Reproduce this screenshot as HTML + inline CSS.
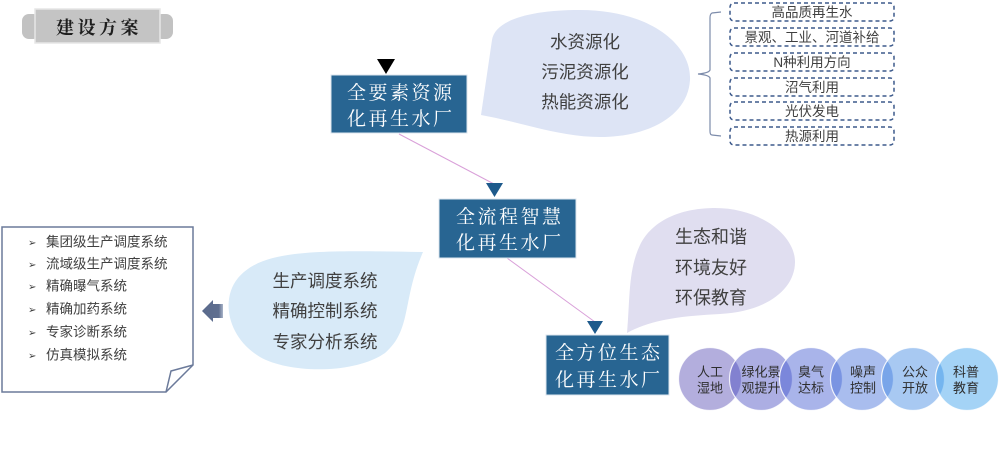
<!DOCTYPE html>
<html>
<head>
<meta charset="utf-8">
<style>
html,body{margin:0;padding:0;background:#fff;width:1000px;height:456px;overflow:hidden;}
svg{display:block;}
.sans{font-family:"Liberation Sans","Noto Sans CJK SC",sans-serif;}
.serif{font-family:"Liberation Serif","Noto Serif CJK SC",serif;}
</style>
</head>
<body>
<svg width="1000" height="456" viewBox="0 0 1000 456" xmlns="http://www.w3.org/2000/svg">
  <!-- Header tab -->
  <rect x="22" y="14" width="18" height="25" rx="7" fill="#c2c2c2"/>
  <rect x="155" y="14" width="18" height="25" rx="7" fill="#c2c2c2"/>
  <rect x="35" y="9" width="125" height="34" fill="#c4c4c4" stroke="#e6e6e6" stroke-width="1.5"/>
  <text x="56" y="34" class="serif" font-size="18" font-weight="bold" fill="#1e1e1e" letter-spacing="3.5">建设方案</text>

  <!-- Bubble 1 -->
  <path d="M481,115 L492,40 C495,20 530,10 580,10 C650,10 692,45 690,80 C688,115 650,137 600,137 C560,137 520,122 481,115 Z" fill="#dde4f5"/>
  <g class="sans" font-size="17.5" fill="#404040" text-anchor="middle">
    <text x="585" y="48">水资源化</text>
    <text x="585" y="78">污泥资源化</text>
    <text x="585" y="108">热能资源化</text>
  </g>

  <!-- Brace -->
  <path d="M721,12 L712,13 Q710,14 710,18 L710,70 Q709,73 698,74 Q709,75 710,78 L710,131 Q710,135 712,135 L721,136" fill="none" stroke="#7d8cab" stroke-width="1.2"/>

  <!-- Dashed boxes -->
  <g fill="none" stroke="#3d5a8c" stroke-width="1.5" stroke-dasharray="4 3">
    <rect x="730" y="3" width="164" height="18" rx="4"/>
    <rect x="730" y="28" width="164" height="18" rx="4"/>
    <rect x="730" y="53" width="164" height="18" rx="4"/>
    <rect x="730" y="78" width="164" height="18" rx="4"/>
    <rect x="730" y="102" width="164" height="18" rx="4"/>
    <rect x="730" y="127" width="164" height="18" rx="4"/>
  </g>
  <g class="sans" font-size="13.5" fill="#404040" text-anchor="middle">
    <text x="812" y="17">高品质再生水</text>
    <text x="812" y="42">景观、工业、河道补给</text>
    <text x="812" y="67">N种利用方向</text>
    <text x="812" y="92">沼气利用</text>
    <text x="812" y="116">光伏发电</text>
    <text x="812" y="141">热源利用</text>
  </g>

  <!-- Connectors -->
  <line x1="399" y1="134" x2="494" y2="184" stroke="#d9a0d9" stroke-width="1"/>
  <line x1="507" y1="258" x2="595" y2="322" stroke="#d9a0d9" stroke-width="1"/>

  <!-- Triangles -->
  <polygon points="377,59 395,59 386,74" fill="#000"/>
  <polygon points="486,183 503,183 494.5,197" fill="#1e5a8c"/>
  <polygon points="587,321 603,321 595,334" fill="#1e5a8c"/>

  <!-- Blue boxes -->
  <rect x="331" y="75" width="136" height="58" fill="#286592" stroke="#dde6ef" stroke-width="1"/>
  <rect x="439" y="199" width="137" height="59" fill="#286592" stroke="#dde6ef" stroke-width="1"/>
  <rect x="546" y="335" width="123" height="60" fill="#286592" stroke="#dde6ef" stroke-width="1"/>
  <g class="serif" font-size="19" fill="#ffffff" letter-spacing="2.5">
    <text x="347" y="99">全要素资源</text>
    <text x="347" y="125">化再生水厂</text>
    <text x="456" y="223">全流程智慧</text>
    <text x="456" y="249">化再生水厂</text>
    <text x="555" y="359">全方位生态</text>
    <text x="555" y="386">化再生水厂</text>
  </g>

  <!-- Bubble 2 -->
  <path d="M423,252 C402,300 412,330 385,353 C355,374 290,374 260,357 C228,338 220,300 238,278 C262,250 310,250 423,252 Z" fill="#d8eaf8"/>
  <g class="sans" font-size="17.5" fill="#404040" text-anchor="middle">
    <text x="325" y="287">生产调度系统</text>
    <text x="325" y="317">精确控制系统</text>
    <text x="325" y="348">专家分析系统</text>
  </g>

  <!-- Left arrow -->
  <defs>
    <linearGradient id="ag" x1="0" x2="1" y1="0" y2="0">
      <stop offset="0" stop-color="#5a6a8c"/>
      <stop offset="0.8" stop-color="#5f6f90"/>
      <stop offset="1" stop-color="#a9b4c8"/>
    </linearGradient>
  </defs>
  <polygon points="202,311 213,300 213,304 223,304 223,318 213,318 213,322" fill="url(#ag)"/>

  <!-- Note box -->
  <path d="M2,227 L193,227 L193,365 L166,392 L2,392 Z" fill="#fff" stroke="#6b7a9a" stroke-width="1.5"/>
  <path d="M193,365 L171,371 L166,392" fill="none" stroke="#6b7a9a" stroke-width="1.5"/>
  <g class="sans" font-size="13.5" fill="#404040">
    <text x="28" y="246" font-size="10">➢</text><text x="46" y="246.5">集团级生产调度系统</text>
    <text x="28" y="268" font-size="10">➢</text><text x="46" y="268.5">流域级生产调度系统</text>
    <text x="28" y="290" font-size="10">➢</text><text x="46" y="290.5">精确曝气系统</text>
    <text x="28" y="313" font-size="10">➢</text><text x="46" y="313.5">精确加药系统</text>
    <text x="28" y="336" font-size="10">➢</text><text x="46" y="336.5">专家诊断系统</text>
    <text x="28" y="359" font-size="10">➢</text><text x="46" y="359.5">仿真模拟系统</text>
  </g>

  <!-- Bubble 3 -->
  <path d="M627,333 C630,300 628,270 640,245 C655,215 690,208 715,208 C760,208 795,235 795,262 C795,290 765,312 720,314 C680,316 650,320 627,333 Z" fill="#e0def0"/>
  <g class="sans" font-size="18" fill="#404040" text-anchor="middle">
    <text x="711" y="243">生态和谐</text>
    <text x="711" y="274">环境友好</text>
    <text x="711" y="304">环保教育</text>
  </g>

  <!-- Circles -->
  <g stroke="#ffffff" stroke-width="1.2" stroke-opacity="0.85">
    <circle cx="710" cy="379" r="31.5" fill="#564bb3" fill-opacity="0.45"/>
    <circle cx="761" cy="379" r="31.5" fill="#474bc1" fill-opacity="0.45"/>
    <circle cx="811" cy="379" r="31.5" fill="#4058d0" fill-opacity="0.45"/>
    <circle cx="862" cy="379" r="31.5" fill="#406cd9" fill-opacity="0.45"/>
    <circle cx="913" cy="379" r="31.5" fill="#3e87e2" fill-opacity="0.45"/>
    <circle cx="967" cy="379" r="31.5" fill="#359deb" fill-opacity="0.45"/>
  </g>
  <g class="sans" font-size="13" fill="#2e2e2e" text-anchor="middle">
    <text x="710" y="376.5">人工</text><text x="710" y="392.5">湿地</text>
    <text x="761" y="376.5">绿化景</text><text x="761" y="392.5">观提升</text>
    <text x="811" y="376.5">臭气</text><text x="811" y="392.5">达标</text>
    <text x="863" y="376.5">噪声</text><text x="863" y="392.5">控制</text>
    <text x="915" y="376.5">公众</text><text x="915" y="392.5">开放</text>
    <text x="966" y="376.5">科普</text><text x="966" y="392.5">教育</text>
  </g>
</svg>
</body>
</html>
